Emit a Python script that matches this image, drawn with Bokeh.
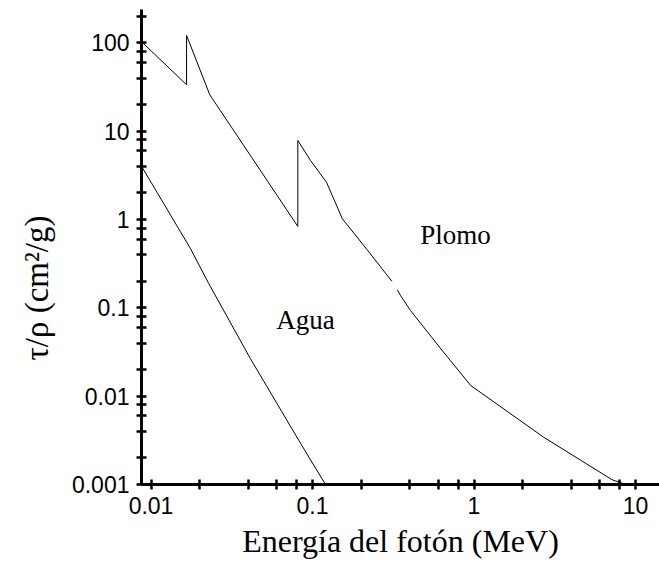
from bokeh.plotting import figure
from bokeh.models import FixedTicker, CustomJSTickFormatter, Range1d, Title
from bokeh.core.properties import value
from bokeh.embed import file_html
from bokeh.resources import INLINE

# Lead (Plomo) photoelectric mass attenuation
lead_energy = [0.0088, 0.0166, 0.0166, 0.0231, 0.0811, 0.0811, 0.0972, 0.122,
               0.153, 0.218, 0.310, float("nan"), 0.335, 0.3507, 0.404, 0.635,
               0.955, 2.70, 7.17, 8.58]
lead_tau = [102.0, 33.6, 121.6, 25.9, 0.836, 7.87, 4.67, 2.65,
            1.02, 0.455, 0.20, float("nan"), 0.16, 0.138, 0.0935, 0.0329,
            0.0132, 0.00343, 0.00113, 0.00101]

# Water (Agua)
water_energy = [0.0088, 0.01757, 0.0228, 0.0413, 0.0823, 0.1203]
water_tau = [3.92, 0.467, 0.1875, 0.0265, 0.00315, 0.001]

# Tick values
x_major = [0.01, 0.1, 1, 10]
y_major = [0.001, 0.01, 0.1, 1, 10, 100]
x_minor = [m * d for d in [0.01, 0.1, 1] for m in (2, 4, 6, 8)]
y_minor = [m * d for d in [0.001, 0.01, 0.1, 1, 10, 100] for m in (2, 4, 6, 8)]

labels_text = ["Plomo", "Agua"]
labels_x = [0.768, 0.0905]
labels_y = [0.661, 0.072]

x_title = "Energía del fotón (MeV)"
y_title = "τ/ρ (cm²/g)"

p = figure(width=659, height=568, x_axis_type="log", y_axis_type="log",
           x_range=Range1d(0.00873, 14.08), y_range=Range1d(0.001, 239),
           output_backend="svg", toolbar_location=None,
           min_border_left=141, min_border_right=0, min_border_top=9,
           min_border_bottom=84)
p.outline_line_color = None
p.xgrid.grid_line_color = None
p.ygrid.grid_line_color = None
p.background_fill_color = "white"
p.border_fill_color = "white"

p.line(lead_energy, lead_tau, line_color="black", line_width=1)
p.line(water_energy, water_tau, line_color="black", line_width=1)

p.text(x=labels_x, y=labels_y, text=labels_text, text_align="center",
       text_baseline="middle", text_font=value("Liberation Serif"),
       text_font_size="27px", text_color="black")

fmt = CustomJSTickFormatter(code="return String(tick)")
p.xaxis.ticker = FixedTicker(ticks=x_major, minor_ticks=x_minor)
p.yaxis.ticker = FixedTicker(ticks=y_major, minor_ticks=y_minor)
p.xaxis.formatter = fmt
p.yaxis.formatter = fmt

for ax in (p.xaxis[0], p.yaxis[0]):
    ax.axis_line_width = 3
    ax.axis_line_color = "black"
    ax.major_tick_line_width = 2.5
    ax.minor_tick_line_width = 2.5
    ax.major_tick_line_color = "black"
    ax.minor_tick_line_color = "black"
    ax.major_tick_in = 5
    ax.major_tick_out = 5
    ax.minor_tick_in = 5
    ax.minor_tick_out = 5
    ax.major_label_text_font = "Liberation Sans"
    ax.major_label_text_font_size = "23px"
    ax.major_label_text_color = "black"
    ax.axis_label_text_font = "Liberation Serif"
    ax.axis_label_text_font_style = "normal"
    ax.axis_label_text_font_size = "32px"
    ax.axis_label_text_color = "black"

p.xaxis.axis_label = x_title
p.xaxis.major_label_standoff = 7
p.yaxis.major_label_standoff = 7
p.xaxis.axis_label_standoff = 6

# y-axis title, placed lower than the frame's middle as in the reference
ytitle = Title(text=y_title, align="left", offset=124, standoff=28,
               text_font="Liberation Serif", text_font_size="33px",
               text_font_style="normal", text_color="black")
p.add_layout(ytitle, "left")

open("out.html", "w").write(file_html(p, INLINE))
